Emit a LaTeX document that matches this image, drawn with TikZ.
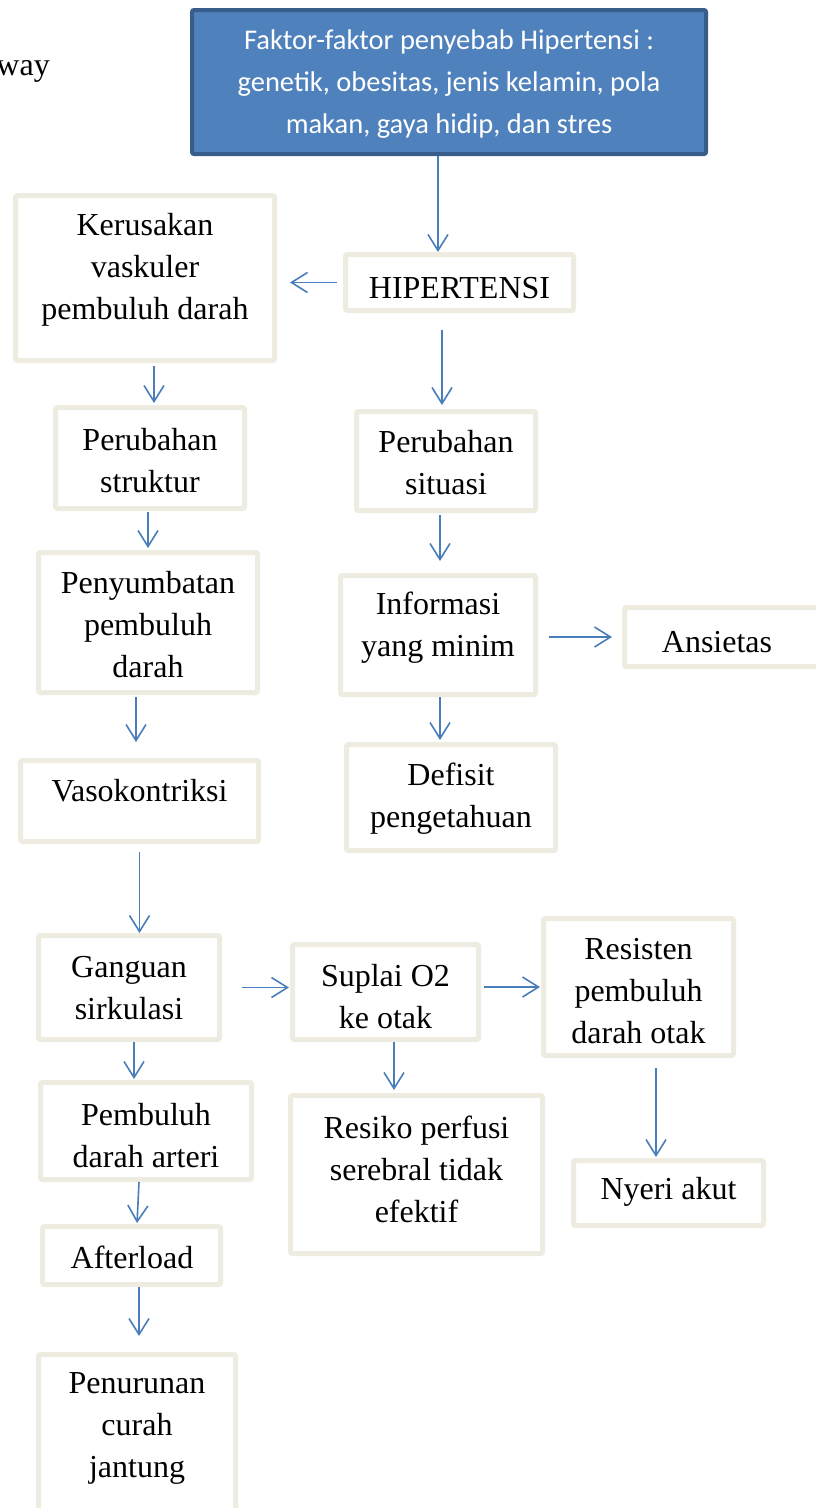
\documentclass[tikz,border=0pt]{standalone}
\usepackage{fontspec}
\setmainfont{Liberation Serif}
\newfontfamily\calibri{Carlito}
\usetikzlibrary{arrows.meta}
\definecolor{boxc}{HTML}{EEECE1}
\definecolor{arrc}{HTML}{4A7EBB}
\definecolor{topfill}{HTML}{4F81BD}
\definecolor{topdraw}{HTML}{385D8A}
\tikzset{
 box/.style={draw=boxc, line width=5pt, fill=white, rounded corners=2pt, outer sep=2.5pt, inner sep=0pt},
 txt/.style={align=center, inner sep=0pt, font=\fontsize{32}{42}\selectfont},
 arr/.style={draw=arrc, line width=1.6pt, -{Straight Barb[length=16pt,width=20pt]}},
 topbox/.style={draw=topdraw, line width=4pt, fill=topfill, rounded corners=2pt, outer sep=2pt, inner sep=0pt,
   text=white}
}
\newcommand\bx[8]{%
 \node[box, minimum width=#4pt, minimum height=#5pt] (#1) at (#2,#3) {};
 \node[txt] (#1t) at (#6,#7) {#8};}
\begin{document}
\begin{tikzpicture}[x=1pt,y=-1pt]
\useasboundingbox (0,0) rectangle (815,1508);
\fill[white] (0,0) rectangle (815,1508);
\node[txt, anchor=base east] (way) at (50,75) {way};
\node[topbox, minimum width=514pt, minimum height=144pt] (top) at (449,82) {};
\node[align=center, inner sep=0pt, text=white, font=\calibri\fontsize{28.5}{42}\selectfont] (topt) at (449,84)
 {Faktor-faktor penyebab Hipertensi :\\genetik, obesitas, jenis kelamin, pola\\makan, gaya hidip, dan stres};
\bx{kerus}{145}{278}{259}{165}{145}{270}{Kerusakan\\vaskuler\\pembuluh darah}
\bx{hip}{459.5}{282.5}{228}{56}{459.5}{288}{HIPERTENSI}
\bx{pstruk}{150}{458}{189}{101}{150}{461}{Perubahan\\struktur}
\bx{psit}{446}{461}{179}{99}{446}{463}{Perubahan\\situasi}
\bx{peny}{148}{622.5}{219}{140}{148}{625}{Penyumbatan\\pembuluh\\darah}
\bx{info}{438}{635}{195}{119}{438}{628}{Informasi\\yang minim}
\bx{ans}{726}{637}{203}{59}{717}{642}{Ansietas}
\bx{def}{451}{797.5}{209}{106}{451}{798.5}{Defisit\\pengetahuan}
\bx{vaso}{139.5}{801}{238}{81}{139.5}{791}{Vasokontriksi}
\bx{gang}{129}{987.5}{181}{104}{129}{988}{Ganguan\\sirkulasi}
\bx{sup}{385.5}{992}{186}{95}{385.5}{997}{Suplai O2\\ke otak}
\bx{res}{638.5}{987}{190}{137}{638.5}{991.5}{Resisten\\pembuluh\\darah otak}
\bx{pemb}{146}{1131}{211}{97}{146}{1136}{Pembuluh\\darah arteri}
\bx{resiko}{416.5}{1174.5}{252}{158}{416.5}{1169.5}{Resiko perfusi\\serebral tidak\\efektif}
\bx{nyeri}{668.5}{1193}{190}{65}{668.5}{1192}{Nyeri akut}
\bx{after}{131.5}{1255.5}{178}{58}{132}{1257}{Afterload}
\bx{pen}{137}{1436}{197}{163}{137}{1428}{Penurunan\\curah\\jantung}
% connectors
\draw[arr] ([xshift=-11pt]top.south) -- ([xshift=-11pt]top.south |- hip.north);
\draw[arr, shorten <=6pt, shorten >=13pt] (hip.west) -- (hip.west -| kerus.east);
\draw[arr, shorten <=3pt, shorten >=2pt] ([xshift=9pt]kerus.south) -- ([xshift=9pt]kerus.south |- pstruk.north);
\draw[arr, shorten <=17pt, shorten >=4pt] ([xshift=-17.5pt]hip.south) -- ([xshift=-17.5pt]hip.south |- psit.north);
\draw[arr, shorten <=1pt, shorten >=2pt] ([xshift=-2pt]pstruk.south) -- ([xshift=-2pt]pstruk.south |- peny.north);
\draw[arr, shorten <=2pt, shorten >=12pt] ([xshift=-6pt]psit.south) -- ([xshift=-6pt]psit.south |- info.north);
\draw[arr, shorten <=11pt, shorten >=10pt] (ans.west -| info.east) -- (ans.west);
\draw[arr, shorten >=2pt] ([xshift=2pt]info.south) -- ([xshift=2pt]info.south |- def.north);
\draw[arr, shorten <=2pt, shorten >=16pt] ([xshift=-12pt]peny.south) -- ([xshift=-12pt]peny.south |- vaso.north);
\draw[arr, shorten <=8pt] (vaso.south) -- (vaso.south |- gang.north);
\draw[arr, shorten <=20pt, shorten >=1pt] (gang.east) -- (gang.east -| sup.west);
\draw[arr, shorten <=3pt, shorten >=1pt] (res.west -| sup.east) -- (res.west);
\draw[arr, shorten >=1pt] ([xshift=5pt]gang.south) -- ([xshift=5pt]gang.south |- pemb.north);
\draw[arr, shorten >=3pt] ([xshift=8.5pt]sup.south) -- ([xshift=8.5pt]sup.south |- resiko.north);
\draw[arr, shorten <=10pt, shorten >=1pt] ([xshift=17.5pt]res.south) -- ([xshift=17.5pt]res.south |- nyeri.north);
\draw[arr, shorten >=1pt] ([xshift=-7pt]pemb.south) -- ([xshift=5.5pt]after.north);
\draw[arr, shorten >=16pt] ([xshift=7.5pt]after.south) -- ([xshift=7.5pt]after.south |- pen.north);
\end{tikzpicture}
\end{document}
